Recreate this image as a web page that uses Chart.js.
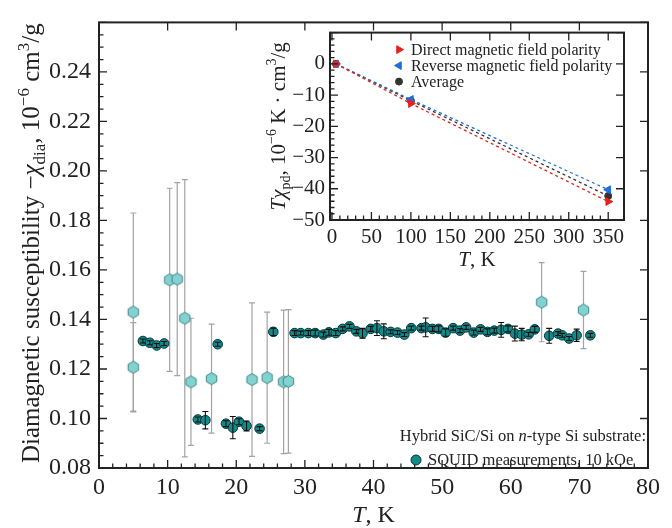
<!DOCTYPE html>
<html>
<head>
<meta charset="utf-8">
<script src="https://cdn.jsdelivr.net/npm/chart.js@4.4.0/dist/chart.umd.min.js"></script>
<style>
  html, body { margin: 0; padding: 0; background: #fff; }
  #wrap { position: relative; width: 672px; height: 528px; }
  #main { position: absolute; left: 0; top: 0; }
  #inset { position: absolute; left: 250px; top: 15px; }
</style>
</head>
<body>
<div id="wrap">
  <canvas id="main" width="672" height="528"></canvas>
  <canvas id="inset" width="400" height="265"></canvas>
</div>
<script>
// main panel: T (K) vs -chi_dia (1e-6 cm3/g)
const hexT   = [5.0, 5.0, 10.3, 11.4, 12.5, 13.4, 16.4, 22.3, 24.5, 26.9, 27.6, 64.5, 70.6];
const hexChi = [0.143, 0.1207, 0.156, 0.1563, 0.1405, 0.1148, 0.1161, 0.1157, 0.1165, 0.1148, 0.115, 0.147, 0.1438];
const hexErr = [0.040, 0.018, 0.037, 0.039, 0.056, 0.0257, 0.022, 0.031, 0.0265, 0.029, 0.029, 0.016, 0.0156];

const squidT = [6.4, 7.4, 8.4, 9.5,
  14.4, 15.5, 17.3, 18.5, 19.5, 20.4, 21.5, 23.4, 25.4,
  28.5, 29.4, 30.5, 31.5, 32.7, 33.5,
  34.5, 35.5, 36.5, 37.5, 38.4, 39.6, 40.5, 41.5, 42.5, 43.5, 44.5, 45.5,
  47.0, 47.6, 48.6, 49.5, 50.5, 51.6, 52.6, 53.5, 54.6, 55.6, 56.6, 57.6, 58.6, 59.6, 60.6, 61.6, 62.6, 63.5,
  65.6, 66.9, 67.5, 68.5, 69.6, 71.6];
const squidChi = [0.1313, 0.1306, 0.1295, 0.1303,
  0.0996, 0.0993, 0.1300, 0.0979, 0.0963, 0.0987, 0.0970, 0.0959, 0.1350,
  0.1345, 0.1345, 0.1345, 0.1345, 0.1339, 0.1348,
  0.1345, 0.1362, 0.1372, 0.1352, 0.1344, 0.1362, 0.1365, 0.1352, 0.1350, 0.1347, 0.1339, 0.1365,
  0.1365, 0.1368, 0.1362, 0.1362, 0.1347, 0.1365, 0.1355, 0.1368, 0.1347, 0.1360, 0.1350, 0.1355, 0.1358, 0.1362, 0.1343, 0.1339, 0.1340, 0.1360,
  0.1334, 0.1343, 0.1336, 0.1323, 0.1336, 0.1336];
const squidErr = [0.0008, 0.0008, 0.0008, 0.0008,
  0.001, 0.0035, 0.0008, 0.0012, 0.0045, 0.0012, 0.002, 0.0008, 0.0015,
  0.001, 0.0008, 0.001, 0.0012, 0.001, 0.0012,
  0.001, 0.0008, 0.0008, 0.0008, 0.002, 0.001, 0.003, 0.003, 0.0008, 0.0008, 0.0008, 0.0008,
  0.0008, 0.0038, 0.001, 0.0012, 0.0015, 0.0008, 0.0008, 0.0008, 0.001, 0.0008, 0.0012, 0.001, 0.003, 0.0012, 0.003, 0.0025, 0.0008, 0.0012,
  0.003, 0.0008, 0.0008, 0.0008, 0.0025, 0.0008];

const mainXTicks = [0, 10, 20, 30, 40, 50, 60, 70, 80];
const mainYTicks = [0.08, 0.10, 0.12, 0.14, 0.16, 0.18, 0.20, 0.22, 0.24, 0.26];

// inset: T (K) vs T*chi_pd (1e-6 K cm3/g)
const insetT       = [5, 100, 350];
const directTchi   = [0, -12.7, -44.1];
const reverseTchi  = [0, -11.4, -40.3];
const averageTchi  = [0, -11.8, -42.3];
const insetXTicks = [0, 50, 100, 150, 200, 250, 300, 350];
const insetYTicks = [-50, -40, -30, -20, -10, 0, 10];

const FAM = "'Liberation Serif', 'DejaVu Serif', serif";
const INK = '#222';
Chart.defaults.font.family = FAM;

function pts(xs, ys) { return xs.map((x, i) => ({ x: x, y: ys[i] })); }

// text with italic / sub / sup pieces
function richText(ctx, parts, x, y, size, align) {
  const fontFor = k => {
    const small = k === 'sub' || k === 'sup';
    return (k === 'i' ? 'italic ' : '') + (small ? Math.round(size * 0.68) : size) + 'px ' + FAM;
  };
  let total = 0;
  parts.forEach(([t, k]) => { ctx.font = fontFor(k); total += ctx.measureText(t).width; });
  let cx = align === 'center' ? x - total / 2 : align === 'right' ? x - total : x;
  ctx.textAlign = 'left';
  ctx.textBaseline = 'alphabetic';
  parts.forEach(([t, k]) => {
    ctx.font = fontFor(k);
    const dy = k === 'sub' ? size * 0.25 : k === 'sup' ? -size * 0.42 : 0;
    ctx.fillText(t, cx, y + dy);
    cx += ctx.measureText(t).width;
  });
}

function hexagon(r, fill, stroke) {
  const c = document.createElement('canvas');
  c.width = c.height = Math.ceil(2 * r + 3);
  const g = c.getContext('2d');
  const m = c.width / 2;
  g.beginPath();
  for (let k = 0; k < 6; k++) {
    const a = Math.PI / 2 + k * Math.PI / 3;
    g.lineTo(m + r * Math.cos(a), m + r * Math.sin(a));
  }
  g.closePath();
  g.fillStyle = fill; g.fill();
  g.strokeStyle = stroke; g.lineWidth = 1; g.stroke();
  return c;
}

function drawErr(chart, xs, ys, es, color, width) {
  const { ctx, scales: { x, y } } = chart;
  ctx.save();
  ctx.strokeStyle = color;
  ctx.lineWidth = width;
  xs.forEach((t, i) => {
    const px = x.getPixelForValue(t);
    const top = y.getPixelForValue(ys[i] + es[i]);
    const bot = y.getPixelForValue(ys[i] - es[i]);
    ctx.beginPath();
    ctx.moveTo(px, top); ctx.lineTo(px, bot);
    ctx.moveTo(px - 3, top); ctx.lineTo(px + 3, top);
    ctx.moveTo(px - 3, bot); ctx.lineTo(px + 3, bot);
    ctx.stroke();
  });
  ctx.restore();
}

// box with inward ticks
function frame(id, xTicks, yTicks, xSub, ySub) {
  return {
    id: id,
    afterDraw(chart) {
      const { ctx, chartArea: a, scales: { x, y } } = chart;
      ctx.save();
      ctx.strokeStyle = INK;
      ctx.lineWidth = 1.3;
      ctx.beginPath();
      xTicks.forEach((v, i) => {
        const p = x.getPixelForValue(v);
        ctx.moveTo(p, a.bottom); ctx.lineTo(p, a.bottom - 8);
        ctx.moveTo(p, a.top); ctx.lineTo(p, a.top + 8);
        if (i < xTicks.length - 1) {
          for (let k = 1; k < xSub; k++) {
            const q = x.getPixelForValue(v + (xTicks[i + 1] - v) * k / xSub);
            ctx.moveTo(q, a.bottom); ctx.lineTo(q, a.bottom - 4.5);
          }
        }
      });
      yTicks.forEach((v, i) => {
        const p = y.getPixelForValue(v);
        ctx.moveTo(a.left, p); ctx.lineTo(a.left + 8, p);
        ctx.moveTo(a.right, p); ctx.lineTo(a.right - 8, p);
        if (i < yTicks.length - 1) {
          for (let k = 1; k < ySub; k++) {
            const q = y.getPixelForValue(v + (yTicks[i + 1] - v) * k / ySub);
            ctx.moveTo(a.left, q); ctx.lineTo(a.left + 4.5, q);
          }
        }
      });
      ctx.stroke();
      ctx.lineWidth = 2;
      ctx.strokeRect(a.left, a.top, a.right - a.left, a.bottom - a.top);
      ctx.restore();
    }
  };
}

const errorBars = {
  id: 'errorBars',
  beforeDatasetsDraw(chart) { drawErr(chart, hexT, hexChi, hexErr, '#a3a3a3', 1.2); },
  afterDatasetsDraw(chart) { drawErr(chart, squidT, squidChi, squidErr, '#111', 1.1); }
};

const SQUID_FILL = '#12898a', SQUID_EDGE = '#0b3434';
const noGrid = { display: false, drawTicks: false, tickLength: 0 };

const mainText = {
  id: 'mainText',
  afterDraw(chart) {
    const { ctx, chartArea: a } = chart;
    ctx.save();
    ctx.fillStyle = INK;
    ctx.translate(39, (a.top + a.bottom) / 2 - 2);
    ctx.rotate(-Math.PI / 2);
    richText(ctx, [['Diamagnetic susceptibility \u2212', ''], ['\u03c7', 'i'], ['dia', 'sub'],
      [', 10', ''], ['\u22126', 'sup'], [' cm', ''], ['3', 'sup'], ['/g', '']], 0, 0, 25, 'center');
    ctx.restore();
    ctx.save();
    ctx.fillStyle = INK;
    richText(ctx, [['T', 'i'], [', K', '']], (a.left + a.right) / 2, 522, 24, 'center');
    richText(ctx, [['Hybrid SiC/Si on ', ''], ['n', 'i'], ['-type Si substrate:', '']], a.right - 2, 441, 16.5, 'right');
    richText(ctx, [['SQUID measurements, 10 kOe', '']], a.right - 220, 465, 16.5, 'left');
    ctx.beginPath();
    ctx.arc(a.right - 232, 460, 5, 0, 2 * Math.PI);
    ctx.fillStyle = SQUID_FILL; ctx.fill();
    ctx.strokeStyle = SQUID_EDGE; ctx.lineWidth = 1; ctx.stroke();
    ctx.restore();
  }
};

new Chart(document.getElementById('main'), {
  type: 'scatter',
  data: {
    datasets: [
      {
        label: 'hexagons',
        data: pts(hexT, hexChi),
        pointStyle: hexagon(6, '#82d2d2', '#3f8585'),
        pointRadius: 6
      },
      {
        label: 'SQUID measurements, 10 kOe',
        data: pts(squidT, squidChi),
        pointRadius: 4.8,
        pointBackgroundColor: SQUID_FILL,
        pointBorderColor: SQUID_EDGE,
        pointBorderWidth: 1
      }
    ]
  },
  options: {
    responsive: false,
    animation: false,
    layout: { padding: { top: 13, right: 24, left: 0, bottom: 0 } },
    plugins: { legend: { display: false }, tooltip: { enabled: false } },
    scales: {
      x: {
        type: 'linear', min: 0, max: 80,
        grid: noGrid, border: { display: false },
        afterBuildTicks: s => { s.ticks = mainXTicks.map(v => ({ value: v })); },
        afterFit: s => { s.height = 60; },
        ticks: { font: { family: FAM, size: 24 }, color: INK, padding: 5, maxRotation: 0, autoSkip: false }
      },
      y: {
        type: 'linear', min: 0.08, max: 0.26,
        grid: noGrid, border: { display: false },
        afterBuildTicks: s => { s.ticks = mainYTicks.map(v => ({ value: v })); },
        afterFit: s => { s.width = 99; },
        ticks: {
          font: { family: FAM, size: 24 }, color: INK, padding: 8, autoSkip: false,
          callback: v => Math.abs(v - 0.26) < 1e-6 ? '' : v.toFixed(2)
        }
      }
    }
  },
  plugins: [errorBars, frame('mainFrame', mainXTicks, mainYTicks, 5, 4), mainText]
});

// inset
const DIRECT = '#e3231f', REVERSE = '#1f6fd8', AVERAGE = '#333333';
const insetLegend = [
  ['Direct magnetic field polarity', 'triangle', 90, DIRECT],
  ['Reverse magnetic field polarity', 'triangle', -90, REVERSE],
  ['Average', 'circle', 0, AVERAGE]
];

const insetText = {
  id: 'insetText',
  afterDraw(chart) {
    const { ctx, chartArea: a } = chart;
    ctx.save();
    ctx.fillStyle = INK;
    ctx.translate(35, (a.top + a.bottom) / 2);
    ctx.rotate(-Math.PI / 2);
    richText(ctx, [['T', 'i'], ['\u03c7', 'i'], ['pd', 'sub'], [', 10', ''], ['\u22126', 'sup'],
      [' K \u00b7 cm', ''], ['3', 'sup'], ['/g', '']], 0, 0, 21, 'center');
    ctx.restore();
    ctx.save();
    ctx.fillStyle = INK;
    richText(ctx, [['T', 'i'], [', K', '']], (a.left + a.right) / 2, 251, 21, 'center');
    insetLegend.forEach(([txt, style, rot, col], i) => {
      const yy = a.top + 17 + i * 16;
      ctx.fillStyle = col;
      ctx.strokeStyle = col;
      Chart.helpers.drawPoint(ctx, { pointStyle: style, rotation: rot, radius: style === 'circle' ? 3.5 : 4.5, borderWidth: 1 }, a.left + 69, yy);
      ctx.fillStyle = INK;
      ctx.font = '16px ' + FAM;
      ctx.textAlign = 'left';
      ctx.textBaseline = 'middle';
      ctx.fillText(txt, a.left + 81, yy + 1);
    });
    ctx.restore();
  }
};

function insetSet(label, ys, col, style, rot, r) {
  return {
    label: label,
    data: pts(insetT, ys),
    showLine: true,
    borderColor: col,
    borderWidth: 1.3,
    borderDash: [3, 3],
    pointStyle: style,
    pointRotation: rot,
    pointRadius: r,
    pointBackgroundColor: col,
    pointBorderColor: col,
    pointBorderWidth: 1
  };
}

new Chart(document.getElementById('inset'), {
  type: 'scatter',
  data: {
    datasets: [
      insetSet('Direct magnetic field polarity', directTchi, DIRECT, 'triangle', 90, 4.5),
      insetSet('Reverse magnetic field polarity', reverseTchi, REVERSE, 'triangle', -90, 4.5),
      insetSet('Average', averageTchi, AVERAGE, 'circle', 0, 3.5)
    ]
  },
  options: {
    responsive: false,
    animation: false,
    layout: { padding: { top: 17, right: 26, left: 0, bottom: 0 } },
    plugins: { legend: { display: false }, tooltip: { enabled: false } },
    scales: {
      x: {
        type: 'linear', min: -2.5, max: 370,
        grid: noGrid, border: { display: false },
        afterBuildTicks: s => { s.ticks = insetXTicks.map(v => ({ value: v })); },
        afterFit: s => { s.height = 60; },
        ticks: { font: { family: FAM, size: 21 }, color: INK, padding: 5, maxRotation: 0, autoSkip: false }
      },
      y: {
        type: 'linear', min: -50, max: 10,
        grid: noGrid, border: { display: false },
        afterBuildTicks: s => { s.ticks = insetYTicks.map(v => ({ value: v })); },
        afterFit: s => { s.width = 80; },
        ticks: {
          font: { family: FAM, size: 21 }, color: INK, padding: 5, autoSkip: false,
          callback: v => v === 10 ? '' : (v < 0 ? '\u2212' + (-v) : String(v))
        }
      }
    }
  },
  plugins: [frame('insetFrame', insetXTicks, insetYTicks, 5, 5), insetText]
});
</script>
</body>
</html>
